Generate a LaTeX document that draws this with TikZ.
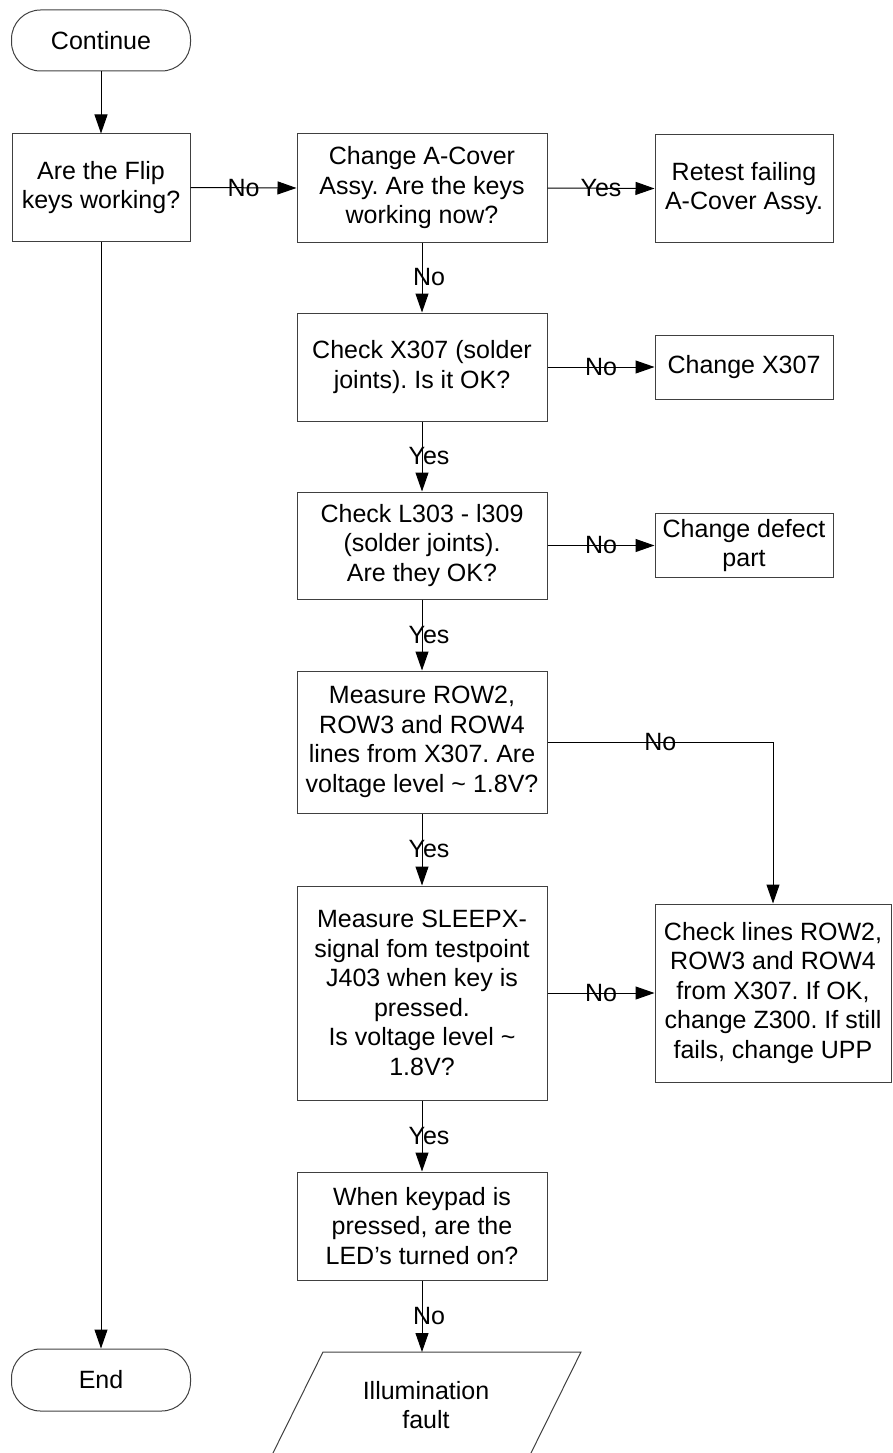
\documentclass[tikz,border=0pt]{standalone}
\usepackage{fontspec}
\setmainfont{Liberation Sans}
\usetikzlibrary{arrows.meta,calc}
\frenchspacing
\begin{document}
\begin{tikzpicture}[x=1pt,y=-1pt,
  every node/.style={font=\frenchspacing\fontsize{25}{29.5}\selectfont, inner sep=0pt, align=center},
  box/.style={draw=black!75, line width=1pt, rectangle},
  term/.style={draw=black!75, line width=1pt, rectangle, rounded corners=29pt},
  conn/.style={draw=black, line width=1pt, -{Triangle[length=19pt,width=13pt]}},
  lab/.style={inner sep=0pt},
  vlab/.style={lab, xshift=7pt}
]
\useasboundingbox (0,0) rectangle (893,1453);

\node[term, minimum width=179pt, minimum height=61pt] (cont) at (101,40.5) {Continue};
\node[box, minimum width=178pt, minimum height=107pt] (q1) at (101,187.5) {Are the Flip\\keys working?};
\node[box, minimum width=250pt, minimum height=108pt] (q2) at (422,188) {Change A-Cover\\Assy. Are the keys\\working now?};
\node[box, minimum width=178pt, minimum height=107pt] (r1) at (744,188.5) {Retest failing\\A-Cover Assy.};
\node[box, minimum width=250pt, minimum height=108pt] (q3) at (422,367) {Check X307 (solder\\joints). Is it OK?};
\node[box, minimum width=178pt, minimum height=64pt] (c1) at (744,367) {Change X307};
\node[box, minimum width=250pt, minimum height=107pt] (q4) at (422,545.5) {Check L303 - l309\\(solder joints).\\Are they OK?};
\node[box, minimum width=178pt, minimum height=64pt] (c2) at (744,545.5) {Change defect\\part};
\node[box, minimum width=250pt, minimum height=142pt] (q5) at (422,742) {Measure ROW2,\\ROW3 and ROW4\\lines from X307. Are\\voltage level \textasciitilde{} 1.8V?};
\node[box, minimum width=250pt, minimum height=214pt] (q6) at (422,993) {Measure SLEEPX-\\signal fom testpoint\\J403 when key is\\pressed.\\Is voltage level \textasciitilde\\1.8V?};
\node[box, minimum width=236pt, minimum height=178pt] (c3) at (773,993) {Check lines ROW2,\\ROW3 and ROW4\\from X307. If OK,\\change Z300. If still\\fails, change UPP};
\node[box, minimum width=250pt, minimum height=108pt] (q7) at (422,1226) {When keypad is\\pressed, are the\\LED’s turned on?};
\node[term, minimum width=179pt, minimum height=62pt] (endn) at (101,1380) {End};

% parallelogram (output)
\coordinate (ptl) at (323,1352);
\coordinate (ptr) at (581,1352);
\coordinate (pbr) at (528.5,1458);
\coordinate (pbl) at (270.5,1458);
\draw[draw=black!75, line width=1pt] (ptl) -- (ptr) -- (pbr) -- (pbl) -- cycle;
\node (par) at (426,1405) {Illumination\\fault};
\coordinate (partop) at (422,1352);

% connectors
\draw[conn] (cont.south) -- (q1.north);
\draw[conn] (q1.east) -- node[lab]{No} (q2.west);
\draw[conn] (q2.east) -- node[lab]{Yes} (r1.west);
\draw[conn] (q2.south) -- node[vlab]{No} (q3.north);
\draw[conn] (q3.east) -- node[lab]{No} (c1.west);
\draw[conn] (q3.south) -- node[vlab]{Yes} (q4.north);
\draw[conn] (q4.east) -- node[lab]{No} (c2.west);
\draw[conn] (q4.south) -- node[vlab]{Yes} (q5.north);
\draw[conn] (q5.east) -- node[lab]{No} (q5.east -| c3.north) -- (c3.north);
\draw[conn] (q5.south) -- node[vlab]{Yes} (q6.north);
\draw[conn] (q6.east) -- node[lab]{No} (c3.west);
\draw[conn] (q6.south) -- node[vlab]{Yes} (q7.north);
\draw[conn] (q7.south) -- node[vlab]{No} (partop);
\draw[conn] (q1.south) -- (endn.north);
\end{tikzpicture}
\end{document}
